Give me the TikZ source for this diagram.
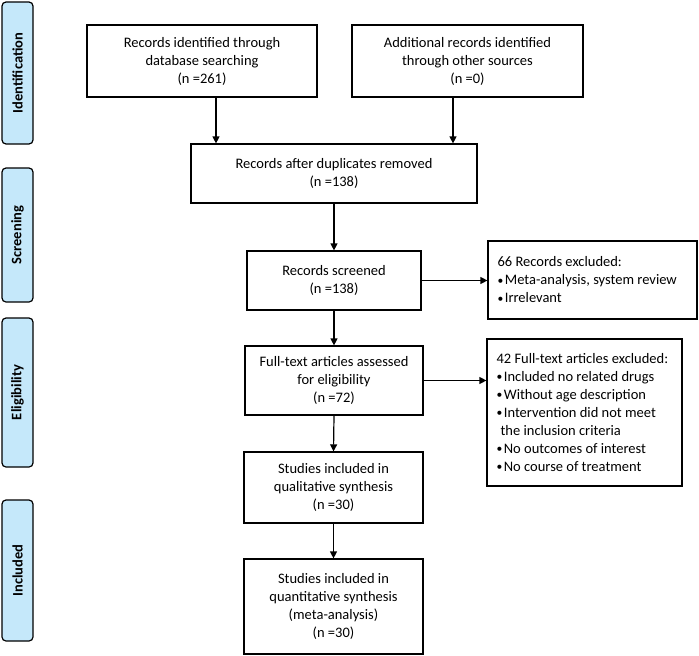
\documentclass[tikz,border=0pt]{standalone}
\usepackage{fontspec}
\setmainfont{Carlito}
\usetikzlibrary{arrows.meta}
\definecolor{tabblue}{RGB}{197,232,250}
\tikzset{
  every node/.style={font=\fontsize{14.5}{18}\selectfont},
  box/.style={draw, line width=1.2pt, fill=white, align=center, inner sep=0pt},
  exbox/.style={draw, line width=1.2pt, fill=white, inner sep=0pt},
  extext/.style={align=left, inner sep=0pt, anchor=west},
  tabbox/.style={draw, line width=1.2pt, fill=tabblue, rounded corners=4pt, minimum width=31pt, inner sep=0pt},
  tablabel/.style={rotate=90, font=\fontsize{14.5}{16}\selectfont\bfseries},
  arr/.style={line width=1.2pt, -{Triangle[length=7pt,width=7pt]}}
}
\newcommand{\bul}{\raisebox{0.5pt}{\scalebox{0.8}{•}}\hspace{1.5pt}}
\begin{document}
\begin{tikzpicture}[x=1pt,y=-1pt]
\useasboundingbox (0,0) rectangle (699,656);
% phase tabs
\node[tabbox, minimum height=142pt] (t1) at (17.5,73) {};
\node[tablabel] (t1l) at (t1.center) {Identification};
\node[tabbox, minimum height=134pt] (t2) at (17.5,235) {};
\node[tablabel] (t2l) at (t2.center) {Screening};
\node[tabbox, minimum height=149pt] (t3) at (17.5,392.5) {};
\node[tablabel] (t3l) at (t3.center) {Eligibility};
\node[tabbox, minimum height=141pt] (t4) at (17.5,570.5) {};
\node[tablabel] (t4l) at (t4.center) {Included};
% main boxes
\node[box, minimum width=230pt, minimum height=72pt] (b1) at (202,61) {Records identified through\\database searching\\(n =261)};
\node[box, minimum width=231pt, minimum height=72pt] (b2) at (467.5,61) {Additional records identified\\through other sources\\(n =0)};
\node[box, minimum width=286pt, minimum height=59pt] (dup) at (334,173.5) {Records after duplicates removed\\(n =138)};
\node[box, minimum width=174pt, minimum height=59pt] (scr) at (334,280.5) {Records screened\\(n =138)};
\node[box, minimum width=178pt, minimum height=69pt] (ft) at (334,380.5) {Full-text articles assessed\\for eligibility\\(n =72)};
\node[box, minimum width=179pt, minimum height=71pt] (qual) at (333.5,487.5) {Studies included in\\qualitative synthesis\\(n =30)};
\node[box, minimum width=179pt, minimum height=95pt] (quant) at (333.5,606.5) {Studies included in\\quantitative synthesis\\(meta-analysis)\\(n =30)};
% exclusion boxes
\node[exbox, minimum width=209pt, minimum height=78pt] (ex1) at (592.5,280) {};
\node[extext] (ex1t) at ([xshift=10pt]ex1.west) {66 Records excluded:\\\bul Meta-analysis, system review\\\bul Irrelevant};
\node[exbox, minimum width=195pt, minimum height=147pt] (ex2) at (584.5,412.5) {};
\node[extext] (ex2t) at ([xshift=10pt]ex2.west) {42 Full-text articles excluded:\\\bul Included no related drugs\\\bul Without age description\\\bul Intervention did not meet\\\hspace{4pt}the inclusion criteria\\\bul No outcomes of interest\\\bul No course of treatment};
% connectors
\coordinate (a1) at (216,0);
\coordinate (a2) at (453,0);
\draw[arr] (b1.south -| a1) -- (dup.north -| a1);
\draw[arr] (b2.south -| a2) -- (dup.north -| a2);
\draw[arr] (dup.south) -- (scr.north);
\draw[arr] (scr.east) -- (scr.east -| ex1.west);
\draw[arr] (scr.south) -- (ft.north);
\draw[arr] (ft.east) -- (ft.east -| ex2.west);
\draw[arr] (ft.south) -- (qual.north);
\draw[arr] (qual.south) -- (quant.north);
\end{tikzpicture}
\end{document}
